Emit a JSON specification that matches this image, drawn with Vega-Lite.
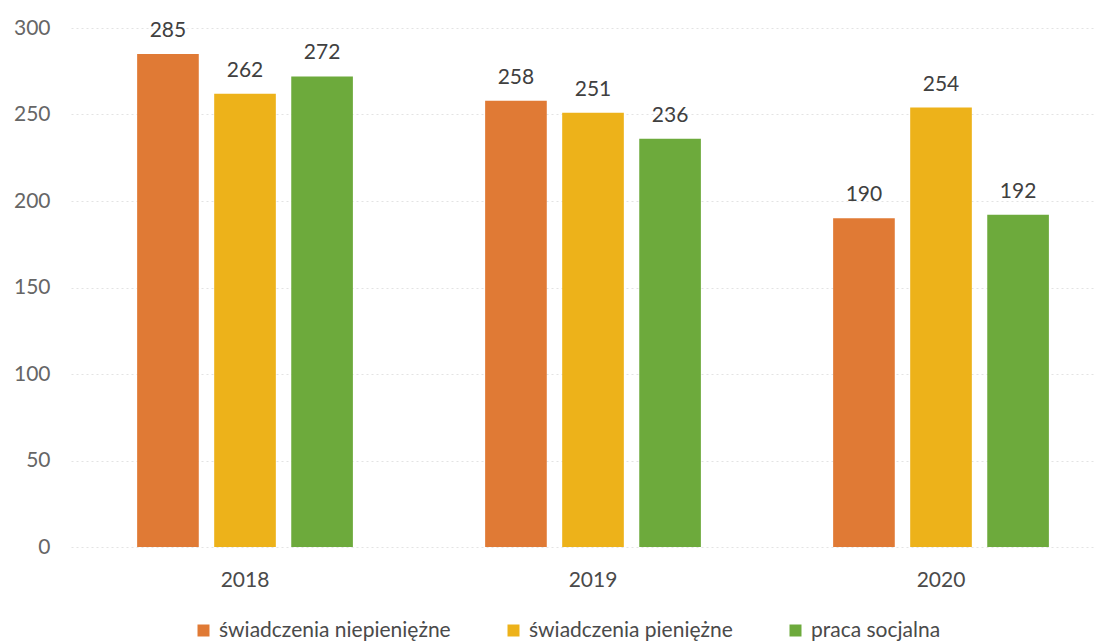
{
  "$schema": "https://vega.github.io/schema/vega-lite/v6.json",
  "autosize": {"type": "none"},
  "padding": {"left": 71, "top": 28, "right": 0, "bottom": 97},
  "width": 1025,
  "height": 519,
  "background": "white",
  "config": {
    "font": "Lato",
    "view": {"stroke": null}
  },
  "data": {
    "values": [
      {"rok": "2018", "kategoria": "świadczenia niepieniężne", "wartosc": 285},
      {"rok": "2018", "kategoria": "świadczenia pieniężne", "wartosc": 262},
      {"rok": "2018", "kategoria": "praca socjalna", "wartosc": 272},
      {"rok": "2019", "kategoria": "świadczenia niepieniężne", "wartosc": 258},
      {"rok": "2019", "kategoria": "świadczenia pieniężne", "wartosc": 251},
      {"rok": "2019", "kategoria": "praca socjalna", "wartosc": 236},
      {"rok": "2020", "kategoria": "świadczenia niepieniężne", "wartosc": 190},
      {"rok": "2020", "kategoria": "świadczenia pieniężne", "wartosc": 254},
      {"rok": "2020", "kategoria": "praca socjalna", "wartosc": 192}
    ]
  },
  "encoding": {
    "x": {
      "field": "rok",
      "type": "nominal",
      "title": null,
      "scale": {"paddingInner": 0.38, "paddingOuter": 0.1627, "align": 0.584},
      "axis": {
        "labelAngle": 0,
        "labelFontSize": 21,
        "labelColor": "#4a4a4a",
        "labelPadding": 22,
        "ticks": false,
        "domain": false,
        "grid": false
      }
    },
    "xOffset": {
      "field": "kategoria",
      "type": "nominal",
      "sort": ["świadczenia niepieniężne", "świadczenia pieniężne", "praca socjalna"],
      "scale": {"paddingInner": 0.2, "paddingOuter": 0}
    },
    "y": {
      "field": "wartosc",
      "type": "quantitative",
      "title": null,
      "scale": {"domain": [0, 300], "nice": false},
      "axis": {
        "values": [0, 50, 100, 150, 200, 250, 300],
        "labelFontSize": 21,
        "labelColor": "#666666",
        "labelPadding": 21,
        "ticks": false,
        "domain": false,
        "grid": true,
        "gridColor": "#e3e3e3",
        "gridDash": [2, 3],
        "gridWidth": 1
      }
    }
  },
  "layer": [
    {
      "mark": {"type": "bar"},
      "encoding": {
        "color": {
          "field": "kategoria",
          "type": "nominal",
          "sort": ["świadczenia niepieniężne", "świadczenia pieniężne", "praca socjalna"],
          "scale": {
            "domain": ["świadczenia niepieniężne", "świadczenia pieniężne", "praca socjalna"],
            "range": ["#E07A35", "#EDB21A", "#6DAA3C"]
          },
          "legend": {
            "title": null,
            "orient": "none",
            "legendX": 122,
            "legendY": 592,
            "direction": "horizontal",
            "gridAlign": "none",
            "symbolType": "square",
            "symbolSize": 144,
            "symbolStrokeWidth": 0,
            "labelFontSize": 21,
            "labelColor": "#4a4a4a",
            "labelLimit": 400,
            "columnPadding": 52,
            "labelOffset": 5
          }
        }
      }
    },
    {
      "mark": {"type": "text", "baseline": "alphabetic", "dy": -17, "fontSize": 21, "color": "#404040"},
      "encoding": {
        "text": {"field": "wartosc", "type": "quantitative"}
      }
    }
  ]
}
